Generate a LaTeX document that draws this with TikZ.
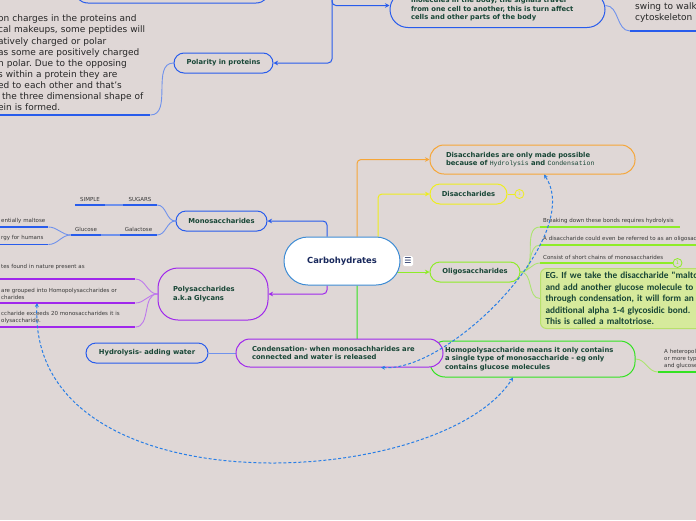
\documentclass[tikz,border=0pt]{standalone}
\usepackage{fontspec}
\setmainfont{DejaVu Sans}
\newfontfamily\egfont{Carlito}
\newfontfamily\codefont{Liberation Mono}
\usepackage{tikz}
\usetikzlibrary{arrows.meta,positioning,backgrounds}
\frenchspacing

\definecolor{bgcol}{RGB}{223,215,214}
\definecolor{blueC}{RGB}{40,92,236}
\definecolor{lblue}{RGB}{112,146,236}
\definecolor{rootblue}{RGB}{62,140,212}
\definecolor{orangeC}{RGB}{246,166,56}
\definecolor{yellowC}{RGB}{238,238,30}
\definecolor{limeC}{RGB}{142,236,40}
\definecolor{llime}{RGB}{172,228,112}
\definecolor{greenC}{RGB}{52,226,34}
\definecolor{purpleC}{RGB}{160,40,236}
\definecolor{lpurple}{RGB}{190,122,236}
\definecolor{nodetext}{RGB}{24,70,54}
\definecolor{roottext}{RGB}{24,40,92}
\definecolor{leafgray}{RGB}{56,56,56}
\definecolor{notegray}{RGB}{38,38,38}
\definecolor{egfill}{RGB}{214,234,156}
\definecolor{egborder}{RGB}{184,224,108}
\definecolor{relblue}{RGB}{40,126,230}

\newcommand{\codeword}[1]{{\codefont\mdseries\fontsize{6.5}{8.4}\selectfont #1}}

\begin{document}
\begin{tikzpicture}[x=1pt, y=-1pt,
  topic/.style={draw=#1, fill=bgcol, line width=1pt, rounded corners=10pt, inner sep=0pt,
    minimum height=20pt, font=\fontsize{6.8}{8.4}\selectfont\bfseries, text=nodetext, align=center},
  root/.style={draw=rootblue, fill=white, line width=1pt, rounded corners=24pt, inner sep=0pt,
    minimum width=116pt, minimum height=48pt, font=\fontsize{8.4}{10}\selectfont\bfseries, text=roottext},
  leaf/.style={inner xsep=3pt, inner ysep=3.5pt, font=\fontsize{5.5}{7}\selectfont, text=leafgray, align=left, anchor=south west},
  tag/.style={inner xsep=0pt, inner ysep=3.5pt, font=\fontsize{5.5}{7}\selectfont, text=leafgray, anchor=south},
  note/.style={inner xsep=0pt, inner ysep=4pt, font=\fontsize{9}{11.1}\selectfont, text=notegray, align=left, anchor=south west},
  badge/.style={circle, draw=#1, fill=bgcol, line width=0.8pt, inner sep=0pt, minimum size=9pt, font=\fontsize{5}{5}\selectfont, text=#1},
  link/.style={draw=#1, line width=1pt, rounded corners=4pt, -{Stealth[length=4.5pt,width=4.5pt]}},
  twig/.style={draw=#1, line width=0.9pt},
  uline/.style={draw=#1, line width=1.8pt},
  rel/.style={draw=relblue, line width=1pt, dash pattern=on 3pt off 2pt,
    {Stealth[length=4pt,width=4pt]}-{Stealth[length=4pt,width=4pt]}}
]
  \useasboundingbox (0,0) rectangle (696,520);
  \clip (0,0) rectangle (696,520);

  % central topic
  \node[root] (carb) at (342,261) {Carbohydrates};
  \node[fill=white, rounded corners=1.5pt, inner sep=0pt, minimum size=10pt, font=\fontsize{8}{8}\selectfont, text=roottext] (menu) at (408,261) {☰};

  % upper branch, cut off by the top edge
  \node[topic=blueC, minimum width=196pt, minimum height=36pt, rounded corners=14pt] (topbox) at (172,-15) {};
  \coordinate (upper) at (332,-14);
  \node[topic=blueC, minimum width=215pt, minimum height=36pt, rounded corners=18pt, text width=173pt, align=left, anchor=south] (sig) at (497.5,28)
    {molecules in the body, the signals travel\\from one cell to another, this is turn affect\\cells and other parts of the body};
  \node[note, inner xsep=5pt, inner ysep=8pt, text width=62pt] (swing) at (630,31) {\mbox{swing to walk}\\cytoskeleton};
  \node[topic=blueC, minimum width=99pt] (polar) at (223.5,63) {Polarity in proteins};
  \node[note, text width=152pt] (ptext) at (-2,115)
    {on charges in the proteins and\\\mbox{cal makeups, some peptides will}\\atively charged or polar\\as some are positively charged\\n polar. Due to the opposing\\s within a protein they are\\ed to each other and that's\\\mbox{\hspace*{4pt}the three dimensional shape of}\\ein is formed.};

  % Monosaccharides (left)
  \node[topic=blueC, minimum width=91pt] (mono) at (221.5,221) {Monosaccharides};
  \node[tag, minimum width=34pt] (sugars) at (140,205) {SUGARS};
  \node[tag, minimum width=30pt] (simple) at (90,205) {SIMPLE};
  \node[tag, minimum width=37pt] (galact) at (138.5,235) {Galactose};
  \node[tag, minimum width=30pt] (glucose) at (86,235) {Glucose};
  \node[leaf, text width=44pt] (maltose) at (-2,227) {\mbox{entially maltose}};
  \node[leaf, text width=44pt] (energy) at (-2,244.5) {\mbox{rgy for humans}};

  % Polysaccharides (left)
  \node[topic=purpleC, minimum width=110pt, minimum height=52pt, rounded corners=20pt, text width=80pt, align=left] (poly) at (213,294) {Polysaccharides\\a.k.a Glycans};
  \node[leaf, text width=131pt, inner ysep=9.5pt] (pleaf1) at (-2,279) {tes found in nature present as};
  \node[leaf, text width=131pt] (pleaf2) at (-2,303) {are grouped into Homopolysaccharides or\\charides};
  \node[leaf, text width=131pt] (pleaf3) at (-2,327) {ccharide exceeds 20 monosaccharides it is\\olysaccharide.};

  % Disaccharides (right)
  \node[topic=orangeC, minimum width=205pt, minimum height=29pt, rounded corners=14pt, text width=173pt, align=left] (disinfo) at (532.5,159.5)
    {Disaccharides are only made possible\\because of \codeword{Hydrolysis} and \codeword{Condensation}};
  \node[topic=yellowC, minimum width=77pt] (disac) at (468.5,194) {Disaccharides};
  \node[badge=yellowC, right=7pt of disac] (cnt1) {1};

  % Oligosaccharides (right)
  \node[topic=limeC, minimum width=90pt] (oligo) at (475,272) {Oligosaccharides};
  \node[leaf, text width=134pt] (oleaf1) at (540,227) {\mbox{Breaking down these bonds requires hydrolysis}};
  \node[leaf, text width=160pt] (oleaf2) at (540,245) {\mbox{A disaccharide could even be referred to as an oligosac}};
  \node[leaf, text width=127pt] (oleaf3) at (540,263) {\mbox{Consist of short chains of monosaccharides}};
  \node[badge=limeC] (cnt2) at (677.5,263) {1};
  \node[draw=egborder, fill=egfill, line width=1pt, rounded corners=6pt, inner xsep=5pt, inner ysep=0pt, minimum height=60pt,
    text width=170pt, align=left, anchor=north west, font=\egfont\bfseries\fontsize{9.3}{11.4}\selectfont, text=nodetext] (egbox) at (540,268)
    {\mbox{EG. If we take the disaccharide "malto}\\\mbox{and add another glucose molecule to}\\\mbox{through condensation, it will form an}\\\mbox{additional alpha 1-4 glycosidic bond.}\\This is called a maltotriose.};

  % Homopolysaccharide / Condensation (bottom)
  \node[topic=greenC, minimum width=205pt, minimum height=36pt, rounded corners=15pt, text width=175pt, align=left] (homo) at (532.5,359)
    {\mbox{Homopolysaccharide means it only contains}\\\mbox{a single type of monosaccharide - eg only}\\contains glucose molecules};
  \node[leaf, inner xsep=6pt, text width=40pt] (hetero) at (658,372) {A heteropol\\or more typ\\and glucose};
  \node[topic=purpleC, minimum width=207pt, minimum height=28pt, rounded corners=14pt, text width=175pt, align=left] (cond) at (339.5,353)
    {\mbox{Condensation- when monosachharides are}\\connected and water is released};
  \node[topic=blueC, minimum width=122pt, left=27pt of cond] (hydro) {Hydrolysis- adding water};

  \begin{scope}[on background layer]
    \fill[bgcol] (0,0) rectangle (696,520);
    % branches out of the root
    \draw[link=orangeC] ([xshift=15pt]carb.north) |- (disinfo.west);
    \draw[link=yellowC] ([xshift=36pt]carb.north) |- (disac.west);
    \draw[link=blueC] ([xshift=-15pt]carb.north) |- (mono.east);
    \draw[link=purpleC] ([xshift=-15pt]carb.south) |- (poly.east);
    \draw[link=limeC] (carb.center |- oligo.west) -- (oligo.west);
    \draw[link=greenC] ([xshift=15pt]carb.south) |- (homo.west);
    % upper branch
    \draw[link=blueC] (upper) |- (polar.east);
    \draw[link=blueC] (upper) |- ([yshift=4pt]sig.west);
    \draw[twig=lblue] ([yshift=4pt]sig.east) to[out=0,in=180] (swing.south west);
    \draw[twig=lblue] (polar.west) to[out=180,in=0] (ptext.south east);
    % leaves
    \draw[twig=lblue] (mono.west) to[out=180,in=0] (sugars.south east);
    \draw[twig=lblue] (mono.west) to[out=180,in=0] (galact.south east);
    \draw[uline=lblue] (sugars.south west) -- (simple.south east);
    \draw[uline=lblue] (galact.south west) -- (glucose.south east);
    \draw[twig=lblue] (glucose.south west) to[out=180,in=0] (maltose.south east);
    \draw[twig=lblue] (glucose.south west) to[out=180,in=0] (energy.south east);
    \foreach \n in {pleaf1,pleaf2,pleaf3}
      \draw[twig=lpurple] (poly.west) to[out=180,in=0] (\n.south east);
    \foreach \n in {oleaf1,oleaf2,oleaf3}
      \draw[twig=llime] (oligo.east) to[out=0,in=180] (\n.south west);
    \draw[twig=llime] (oligo.east) to[out=0,in=180] (egbox.west);
    \draw[twig=llime] (homo.east) to[out=0,in=180] (hetero.south west);
    \draw[twig=lblue] (hydro.east) -- (cond.west);
    \draw[twig=yellowC] (disac.east) -- (cnt1.west);
  \end{scope}

  % underlines
  \foreach \n in {ptext,swing,sugars,simple,galact,glucose,maltose,energy}
    \draw[uline=blueC] (\n.south west) -- (\n.south east);
  \foreach \n in {pleaf1,pleaf2,pleaf3}
    \draw[uline=purpleC] (\n.south west) -- (\n.south east);
  \foreach \n in {oleaf1,oleaf2,oleaf3}
    \draw[uline=limeC] (\n.south west) -- (\n.south east);
  \draw[uline=greenC] (hetero.south west) -- (hetero.south east);

  % relationship lines
  \draw[rel] ([xshift=41.5pt]cond.south) .. controls (450,372) and (585,235) .. ([xshift=11.5pt]disinfo.south);
  \draw[rel] ([xshift=39pt]pleaf2.south west) .. controls (27,512) and (440,492) .. ([xshift=-19.5pt]homo.south);
\end{tikzpicture}
\end{document}
